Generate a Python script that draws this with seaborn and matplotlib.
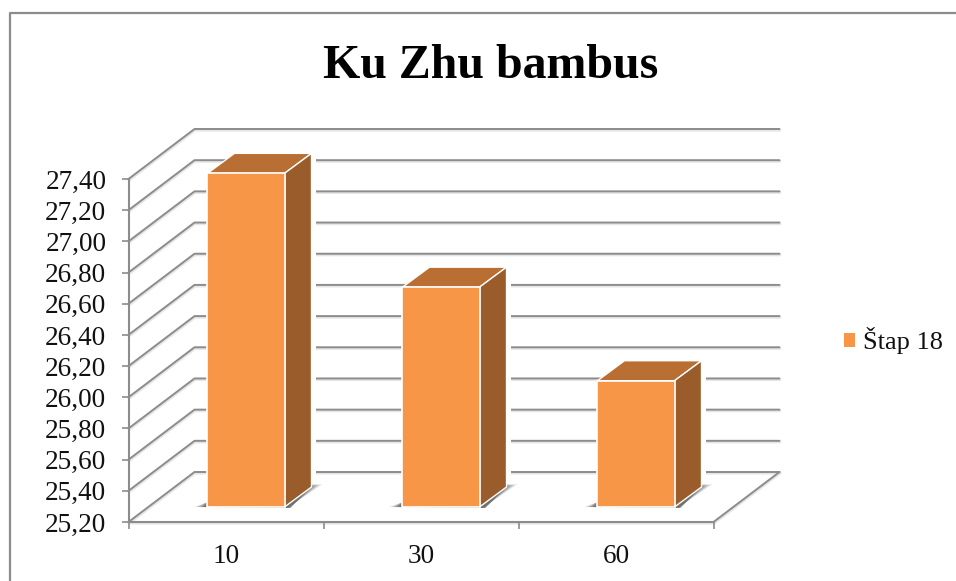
import numpy as np
import pandas as pd
import matplotlib
matplotlib.use('Agg')
import matplotlib.pyplot as plt
import seaborn as sns
from matplotlib.lines import Line2D
from matplotlib.patches import Patch, Polygon, Rectangle
from matplotlib.transforms import Affine2D, IdentityTransform

title = "Ku Zhu bambus"
series_name = "Štap 18"
categories = ["10", "30", "60"]
values = [27.34, 26.61, 26.01]
y_ticks = [25.2, 25.4, 25.6, 25.8, 26.0, 26.2, 26.4, 26.6, 26.8, 27.0, 27.2, 27.4]

W, H = 956, 581
GREY = "#8c8c8c"
TXT = "#111111"
FRONT = "#f79646"
TOP = "#b96f33"
SIDE = "#9a5c2a"

sns.set_style("white")
plt.rcParams['font.family'] = ['Liberation Serif', 'DejaVu Serif']

fig = plt.figure(figsize=(W / 100, H / 100), dpi=100, facecolor="white")
# prednja ravnina grafa, u pikselima slike
ax = fig.add_axes([128.5 / W, (H - 522) / H, 585 / W, 343 / H])
ax.patch.set_alpha(0)

df = pd.DataFrame({"kat": categories, "val": values})
sns.barplot(data=df, x="kat", y="val", ax=ax, color=FRONT, saturation=1,
            width=0.395, edgecolor="white", linewidth=1.2, zorder=5)
ax.set_xlim(-0.5, 2.5)
ax.set_ylim(y_ticks[0], y_ticks[-1])
ax.set_xlabel("")
ax.set_ylabel("")
ax.set_xticks([-0.5, 0.5, 1.5, 2.5], minor=False)
ax.set_xticklabels([])
ax.set_yticks(y_ticks)
ax.set_yticklabels([f"{t:.2f}".replace(".", ",") for t in y_ticks], fontsize=19.6, color=TXT)
ax.tick_params(axis="both", length=5, width=1.2, color=GREY, left=True, bottom=True, pad=11)
for side in ["left", "bottom"]:
    ax.spines[side].set_color(GREY)
    ax.spines[side].set_linewidth(1.5)
for side in ["top", "right"]:
    ax.spines[side].set_visible(False)

# kategorije su na sredini izmedu crtica
for i, c in enumerate(categories):
    ax.annotate(c, (i, y_ticks[0]), xytext=(0, -24.5), textcoords="offset points",
                ha="center", va="center", fontsize=19.6, color=TXT)

screen = IdentityTransform()
wall_dx, wall_dy = 66, 50      # pomak straznjeg zida
bar_dx, bar_dy = 20, 15        # pomak stupca od prednje ravnine
depth_dx, depth_dy = 27, 20    # dubina stupca


def wall_line(xs, ys, lw=1.4, z=1):
    ax.add_artist(Line2D(np.array(xs) + 0.5, np.array(ys) - 1.2, lw=lw + 0.6, color="#e6e6e6",
                         transform=screen, zorder=z - 0.5, clip_on=False))
    ax.add_artist(Line2D(xs, ys, lw=lw, color=GREY, transform=screen, zorder=z, clip_on=False))


x0, y0 = ax.transData.transform((-0.5, y_ticks[0]))
x1, _ = ax.transData.transform((2.5, y_ticks[0]))
for t in y_ticks:
    _, y = ax.transData.transform((-0.5, t))
    wall_line([x0, x0 + wall_dx, x1 + wall_dx], [y, y + wall_dy, y + wall_dy])
wall_line([x0 + 1, x1, x1 + wall_dx], [y0, y0, y0 + wall_dy])

shift = Affine2D().translate(bar_dx, bar_dy)
for bar, v in zip(ax.patches, values):
    bar.set_y(y_ticks[0])
    bar.set_height(v - y_ticks[0])
    bar.set_transform(ax.transData + shift)
    bar.set_clip_on(False)
    (xa, ya), (xb, yb) = ax.transData.transform(
        [(bar.get_x(), y_ticks[0]), (bar.get_x() + bar.get_width(), v)])
    xa, xb = xa + bar_dx, xb + bar_dx
    ya, yb = ya + bar_dy, yb + bar_dy
    # bijela podloga da stupac prekine linije zida
    ax.add_patch(Rectangle((xb, ya), depth_dx + 4, yb - ya + depth_dy, fc="white", ec="none",
                           transform=screen, zorder=2, clip_on=False))
    # sjena na podu
    for k, a in zip([0, 3, 6, 9], [0.2, 0.3, 0.4, 0.5]):
        ax.add_patch(Polygon([(xa - 13 + k, ya), (xb + 3 + k / 3, ya - 1), (xb + depth_dx + 11 - k, ya + depth_dy + 3),
                              (xb, ya + 14), (xa, ya + 5)],
                             closed=True, fc="#555555", ec="none", alpha=a,
                             transform=screen, zorder=3, clip_on=False))
    ax.add_patch(Polygon([(xa, yb), (xb, yb), (xb + depth_dx, yb + depth_dy), (xa + depth_dx, yb + depth_dy)],
                         closed=True, fc=TOP, ec="white", lw=1.0, transform=screen, zorder=4, clip_on=False))
    ax.add_patch(Polygon([(xb, ya), (xb + depth_dx, ya + depth_dy), (xb + depth_dx, yb + depth_dy), (xb, yb)],
                         closed=True, fc=SIDE, ec="white", lw=1.0, transform=screen, zorder=4, clip_on=False))

fig.text(490.5 / W, (H - 66) / H, title, fontsize=34.5, fontweight="bold", color="black",
         ha="center", va="center")

fig.legend(handles=[Patch(fc=FRONT, ec="none", label=series_name)], loc="center left",
           bbox_to_anchor=(820.5 / W, (H - 341) / H), frameon=False, fontsize=19,
           handlelength=0.42, handleheight=0.42, handletextpad=0.3, labelcolor=TXT)

# okvir slike, vidi se samo gore i lijevo
fig.add_artist(Line2D([10 / W, 10 / W, 1], [0, (H - 13) / H, (H - 13) / H], lw=1.6, color=GREY))

fig.savefig("out.png", dpi=100)
plt.close(fig)
